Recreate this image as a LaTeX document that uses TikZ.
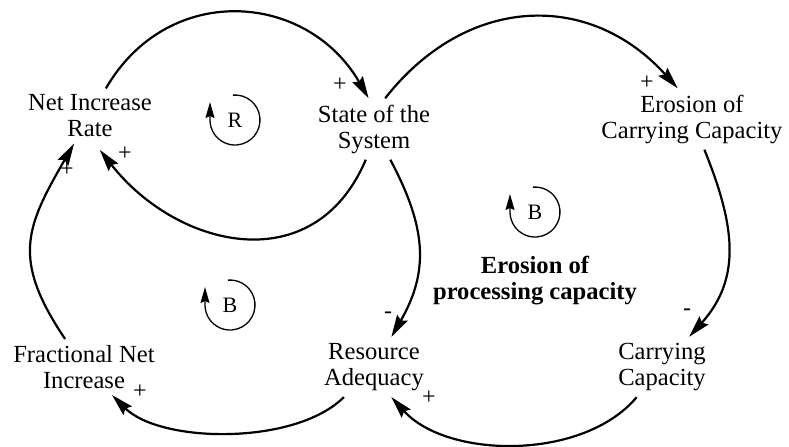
\documentclass[tikz,border=0pt]{standalone}
\usepackage{fontspec}
\setmainfont{Liberation Serif}
\usetikzlibrary{arrows.meta}

\begin{document}
\begin{tikzpicture}[x=0.5pt,y=0.5pt,
    var/.style={align=center,inner sep=3pt,font=\fontsize{12.3}{13}\selectfont},
    link/.style={line width=1.1pt,-{Stealth[length=11pt,width=6pt,inset=1.5pt]}},
    sign/.style={inner sep=0pt,font=\fontsize{12}{12}\selectfont},
    loopmark/.style={line width=0.65pt,-{Stealth[length=8pt,width=4.5pt,inset=1pt]}},
    looptag/.style={inner sep=0pt,font=\fontsize{11}{12}\selectfont}]
  \useasboundingbox (0,0) rectangle (789,446);
  \node[var] (nir) at (90,330) {Net Increase\\Rate};
  \node[var] (sys) at (374,317) {State of the\\System};
  \node[var] (ecc) at (692,327) {Erosion of\\Carrying Capacity};
  \node[var] (fni) at (84,79) {Fractional Net\\Increase};
  \node[var] (ra) at (374,79) {Resource\\Adequacy};
  \node[var] (cc) at (662,79) {Carrying\\Capacity};
  \node[var,font=\fontsize{12.3}{13}\selectfont\bfseries] (erosion) at (535,165) {Erosion of\\processing capacity};

  \draw[link] (nir) to[out=60,in=120,looseness=1.2] (sys.100);
  \draw[link,shorten >=4pt] (sys.-105) to[out=-113,in=-52,looseness=1.25] (nir.-80);
  \draw[link] (sys.70) to[out=52,in=132,looseness=1.15] (ecc.115);
  \draw[link] (sys) to[out=-62,in=60,looseness=1.1] (ra);
  \draw[link] (ecc) to[out=-68,in=48,looseness=1.09] (cc);
  \draw[link] (cc) to[out=-130,in=-48,looseness=0.87] (ra.-60);
  \draw[link] (ra) to[out=-135,in=-45,looseness=0.755] (fni);
  \draw[link] (fni) to[out=124,in=-120,looseness=1.26] (nir);

  \node[sign] (s1) at (340,361) {+};
  \node[sign] (s2) at (125,292) {+};
  \node[sign] (s3) at (647,363) {+};
  \node[sign] (s4) at (388,131) {-};
  \node[sign] (s5) at (687,134) {-};
  \node[sign] (s6) at (429,48) {+};
  \node[sign] (s7) at (140,54) {+};
  \node[sign] (s8) at (67,276) {+};

  \node[looptag] (loopR) at (235,326) {R};
  \node[looptag] (loopB1) at (230,141) {B};
  \node[looptag] (loopB2) at (535,234) {B};
  \foreach \l in {loopR,loopB1,loopB2}
    \draw[loopmark] (\l) ++(95:12.5pt) arc[start angle=95,end angle=-180,radius=12.5pt] -- ++(0,9pt);
\end{tikzpicture}
\end{document}
